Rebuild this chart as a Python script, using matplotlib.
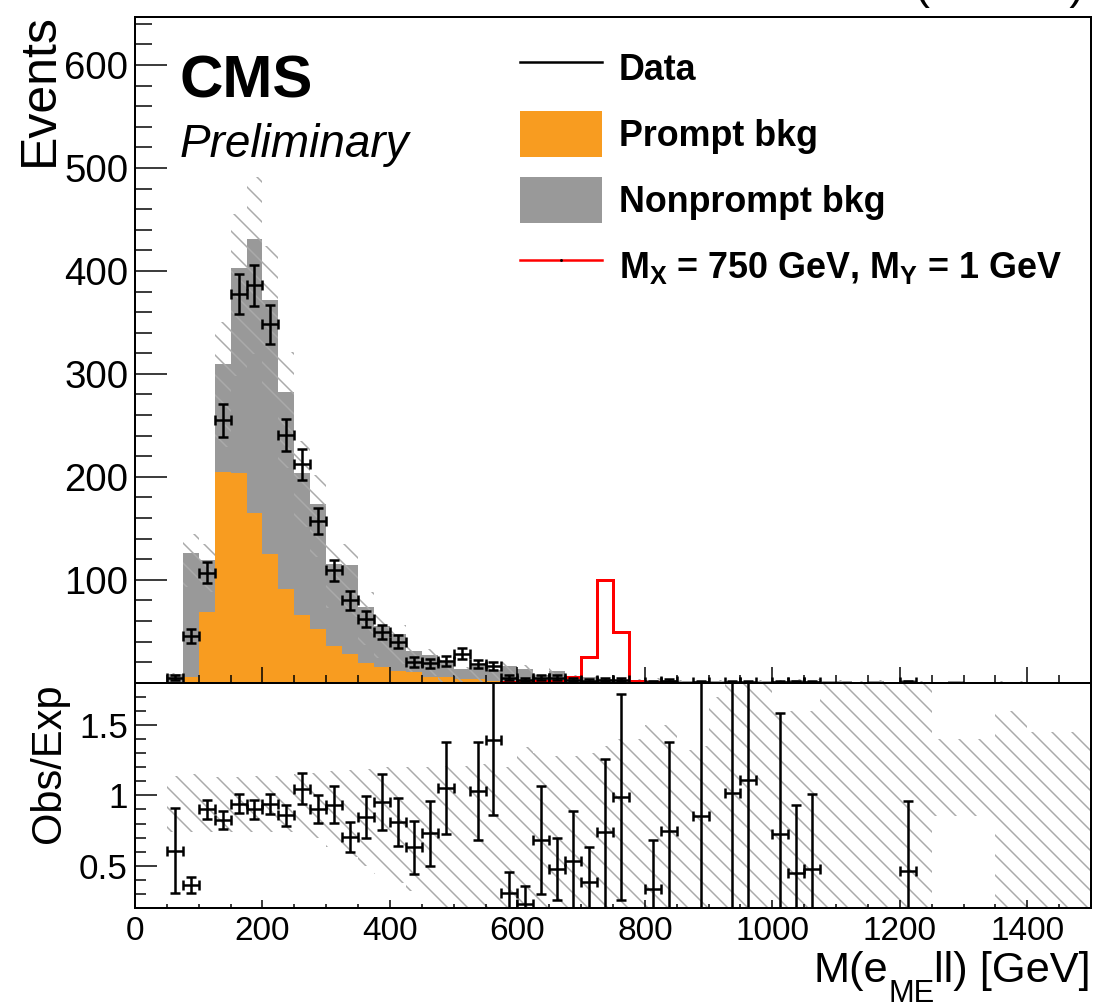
import numpy as np
import matplotlib
matplotlib.use('Agg')
import matplotlib.pyplot as plt
from matplotlib.lines import Line2D
from matplotlib.patches import Patch
from matplotlib.ticker import MultipleLocator, FixedLocator, FormatStrFormatter

plt.rcParams['font.family'] = ['Liberation Sans', 'DejaVu Sans']
plt.rcParams['mathtext.fontset'] = 'custom'
plt.rcParams['mathtext.rm'] = 'Liberation Sans'
plt.rcParams['mathtext.it'] = 'Liberation Sans:italic'
plt.rcParams['mathtext.bf'] = 'Liberation Sans:bold'
plt.rcParams['hatch.linewidth'] = 0.9

# ---------------- data (25 GeV bins from 50 to 1500 GeV) ----------------
bin_low, bin_high, bin_width = 50, 1500, 25

prompt = [0.5, 6, 69, 205, 204, 165, 125, 91, 66, 52,
          36, 28, 19.5, 15.5, 11, 10.5, 6, 6, 3.5, 3.5,
          1.5, 1.5, 1, 1, 0.8, 0.8, 0.6, 0.6, 0.5, 0.5,
          0.4, 0.4, 0.4, 0.3, 0.3, 0.3, 0.3, 0.3, 0.3, 0.3,
          0.3, 0.2, 0.2, 0.2, 0.2, 0.2, 0.2, 0.2, 0.2, 0.2,
          0.2, 0.2, 0.2, 0.2, 0.2, 0.2, 0.2, 0.2]

nonprompt = [8, 120, 50, 105, 199, 266, 247, 191, 138, 122,
             79, 86, 54.5, 39.5, 36, 20.5, 21, 15, 9.5, 12.5,
             10.5, 15, 12, 6.5, 10.2, 4.8, 4.6, 3.4, 2.5, 2.0,
             2.6, 2.3, 1.6, 0.9, 1.2, 0.7, 0.6, 0.9, 1.1, 1.9,
             1.8, 1.3, 1.0, 0.8, 1.1, 0.9, 2.0, 0.8, 0.6, 1.0,
             0.7, 0.5, 0.8, 0.6, 0.4, 0.7, 0.5, 0.6]

signal = [0, 0, 0, 0, 0, 0, 0, 0, 0, 0,
          0, 0, 0, 0, 0, 0, 0, 0, 0, 0,
          0, 1, 2, 2, 2, 6, 25, 100, 49, 2,
          0.5, 0, 0, 0, 0, 0, 0, 0, 0, 0,
          0, 0, 0, 0, 0, 0, 0, 0, 0, 0,
          0, 0, 0, 0, 0, 0, 0, 0]

data = [5, 45, 107, 255, 378, 386, 348, 241, 212, 157,
        109, 80, 62, 49, 40, 20, 19, 21, 28, 18,
        16, 5, 3, 5, 5, 3, 2, 3, 3, 0,
        1, 2, 0, 1, 0, 1, 1, 0, 1, 1,
        1, 0, 0, 0, 0, 0, 1, 0, 0, 0,
        0, 0, 0, 0, 0, 0, 0, 0]

data_err = [2.2, 6.7, 10.3, 16, 19.4, 19.6, 18.7, 15.5, 14.6, 12.5,
            10.4, 8.9, 7.9, 7.0, 6.3, 4.5, 4.4, 4.6, 5.3, 4.2,
            4.0, 2.2, 1.7, 2.2, 2.2, 1.7, 1.4, 1.7, 1.7, 0,
            1, 1.4, 0, 1, 0, 1, 1, 0, 1, 1,
            1, 0, 0, 0, 0, 0, 1, 0, 0, 0,
            0, 0, 0, 0, 0, 0, 0, 0]

nan = np.nan
ratio = [0.607, 0.364, 0.90, 0.824, 0.94, 0.90, 0.937, 0.859, 1.047, 0.906,
         0.934, 0.706, 0.847, 0.953, 0.812, 0.63, 0.73, 1.052, nan, 1.03,
         1.39, 0.304, 0.23, 0.68, 0.477, 0.535, 0.386, 0.74, 0.99, nan,
         0.337, 0.745, nan, 0.85, nan, 1.02, 1.106, nan, 0.724, 0.45,
         0.48, nan, nan, nan, nan, nan, 0.46, nan, nan, nan,
         nan, nan, nan, nan, nan, nan, nan, nan]
ratio_err_lo = [0.30, 0.054, 0.07, 0.065, 0.068, 0.065, 0.07, 0.075, 0.11, 0.10,
                0.13, 0.106, 0.147, 0.20, 0.17, 0.19, 0.23, 0.33, 0, 0.35,
                0.53, 0.20, 0.10, 0.38, 0.217, 0.40, 0.30, 0.60, 0.73, 0,
                0.30, 0.60, 0, 0.85, 0, 1.0, 1.0, 0, 0.60, 0.40,
                0.40, 0, 0, 0, 0, 0, 0.40, 0, 0, 0,
                0, 0, 0, 0, 0, 0, 0, 0]
ratio_err_hi = [0.30, 0.056, 0.07, 0.065, 0.068, 0.065, 0.07, 0.075, 0.11, 0.10,
                0.13, 0.106, 0.147, 0.20, 0.17, 0.19, 0.23, 0.33, 0, 0.35,
                0.60, 0.15, 0.125, 0.386, 0.223, 0.352, 0.244, 0.52, 0.73, 0,
                0.343, 0.635, 0, 1.5, 0, 1.5, 1.5, 0, 0.862, 0.484,
                0.53, 0, 0, 0, 0, 0, 0.497, 0, 0, 0,
                0, 0, 0, 0, 0, 0, 0, 0]

# relative uncertainty band of the total background (upper / lower edge)
band_hi = [1.14, 1.15, 1.13, 1.13, 1.13, 1.14, 1.14, 1.14, 1.15, 1.16,
           1.17, 1.18, 1.19, 1.20, 1.20, 1.20, 1.20, 1.21, 1.21, 1.22,
           1.22, 1.20, 1.34, 1.30, 1.28, 1.28, 1.30, 1.35, 1.40, 1.40,
           1.50, 1.50, 1.32, 1.35, 1.70, 1.90, 1.90, 1.90, 1.60, 1.60,
           1.60, 1.90, 1.90, 1.90, 1.90, 1.90, 1.90, 1.90, 1.40, 1.40,
           1.40, 1.40, 1.60, 1.60, 1.45, 1.45, 1.45, 1.45]
band_lo = [0.74, 0.74, 0.74, 0.74, 0.74, 0.74, 0.74, 0.74, 0.74, 0.70,
           0.63, 0.56, 0.50, 0.44, 0.38, 0.32, 0.25, 0.0, 0.0, 0.0,
           0.0, 0.0, 0.0, 0.0, 0.0, 0.0, 0.0, 0.0, 0.0, 0.0,
           0.0, 0.0, 0.0, 0.0, 0.0, 0.0, 0.0, 0.0, 0.0, 0.0,
           0.0, 0.0, 0.0, 0.0, 0.0, 0.0, 0.0, 0.0, 0.85, 0.85,
           0.85, 0.85, 0.0, 0.0, 0.0, 0.0, 0.0, 0.0]

x_ticks = [0, 200, 400, 600, 800, 1000, 1200, 1400]
y_ticks_top = [100, 200, 300, 400, 500, 600]
y_ticks_ratio = [0.5, 1.0, 1.5]

legend_labels = ['Data', 'Prompt bkg', 'Nonprompt bkg',
                 r'$\mathbf{M_{X}}$ = 750 GeV, $\mathbf{M_{Y}}$ = 1 GeV']

ORANGE = '#f89c20'
GREY = '#999999'
HATCH_C = '#aaaaaa'

# ---------------- figure ----------------
W, H, DPI = 1097, 1006, 120
fig = plt.figure(figsize=(W / DPI, H / DPI), dpi=DPI)

def fx(px):
    return px / W

def fy(py):
    return 1 - py / H

left, right = 135, 1091
top1, split, bot2 = 16.7, 682.7, 908
ax1 = fig.add_axes([fx(left), fy(split), fx(right) - fx(left), fy(top1) - fy(split)])
ax2 = fig.add_axes([fx(left), fy(bot2), fx(right) - fx(left), fy(split) - fy(bot2)])

edges = np.arange(bin_low, bin_high + 1, bin_width)
centers = edges[:-1] + bin_width / 2
prompt_a = np.array(prompt)
nonprompt_a = np.array(nonprompt)
total = prompt_a + nonprompt_a
data_a = np.array(data, dtype=float)
derr = np.array(data_err)

# stacked backgrounds
ax1.stairs(prompt_a, edges, baseline=0, fill=True, facecolor=ORANGE,
           edgecolor='none', lw=0, zorder=1)
ax1.stairs(total, edges, baseline=prompt_a, fill=True, facecolor=GREY,
           edgecolor='none', lw=0, zorder=1)
# uncertainty band
ax1.stairs(total * np.array(band_hi), edges, baseline=total * np.array(band_lo),
           fill=True, facecolor='none', edgecolor=HATCH_C, lw=0,
           hatch='\\\\', zorder=2)
# signal
ax1.stairs(np.array(signal), edges, baseline=0, color='red', lw=1.8, zorder=3)
# data
m = data_a > 0
ax1.errorbar(centers[m], data_a[m], yerr=derr[m], xerr=bin_width / 2, fmt='none',
             ecolor='black', elinewidth=1.5, capsize=2.8, capthick=1.5, zorder=4)

ax1.set_xlim(0, 1500)
ax1.set_ylim(0, 647)
ax1.xaxis.set_major_locator(FixedLocator(x_ticks))
ax1.xaxis.set_minor_locator(MultipleLocator(50))
ax1.yaxis.set_major_locator(FixedLocator(y_ticks_top))
ax1.yaxis.set_minor_locator(MultipleLocator(20))
ax1.tick_params(axis='x', which='major', direction='in', length=9.6, width=0.9,
                top=False, bottom=True, labelbottom=False)
ax1.tick_params(axis='x', which='minor', direction='in', length=4.8, width=0.9,
                top=False, bottom=True)
ax1.tick_params(axis='y', which='major', direction='in', length=19, width=0.9,
                right=False, labelsize=23, pad=4.0)
ax1.tick_params(axis='y', which='minor', direction='in', length=10, width=0.9,
                right=False)

# ratio panel
ax2.stairs(np.array(band_hi), edges, baseline=np.array(band_lo), fill=True,
           facecolor='none', edgecolor=HATCH_C, lw=0, hatch='\\\\', zorder=1)
r = np.array(ratio)
rl = np.array(ratio_err_lo)
rh = np.array(ratio_err_hi)
mr = ~np.isnan(r)
ax2.errorbar(centers[mr], r[mr], yerr=[rl[mr], rh[mr]], xerr=bin_width / 2,
             fmt='none', ecolor='black', elinewidth=1.5, capsize=2.8,
             capthick=1.5, zorder=3)
ax2.set_xlim(0, 1500)
ax2.set_ylim(0.2, 1.8)
ax2.xaxis.set_major_locator(FixedLocator(x_ticks))
ax2.xaxis.set_minor_locator(MultipleLocator(50))
ax2.yaxis.set_major_locator(FixedLocator(y_ticks_ratio))
ax2.yaxis.set_minor_locator(MultipleLocator(0.1))
ax2.yaxis.set_major_formatter(FormatStrFormatter('%g'))
ax2.tick_params(axis='x', which='major', direction='in', length=5, width=0.9,
                top=False, labelsize=20, pad=4.5)
ax2.tick_params(axis='x', which='minor', direction='in', length=2.5, width=0.9,
                top=False)
ax2.tick_params(axis='y', which='major', direction='in', length=13, width=0.9,
                right=False, labelsize=21, pad=4.2)
ax2.tick_params(axis='y', which='minor', direction='in', length=6.6, width=0.9,
                right=False)

for ax in (ax1, ax2):
    for s in ax.spines.values():
        s.set_linewidth(1.2)

# legend
handles = [Line2D([], [], color='black', lw=1.5),
           Patch(facecolor=ORANGE, edgecolor='none'),
           Patch(facecolor=GREY, edgecolor='none'),
           Line2D([], [], color='red', lw=1.5, marker='.', markersize=1.5,
                  markerfacecolor='black', markeredgecolor='black')]
leg_fs = 21.5
leg = ax1.legend(handles, legend_labels, loc='upper left',
                 bbox_to_anchor=(fx(520), fy(45)), bbox_transform=fig.transFigure,
                 frameon=False, borderpad=0, borderaxespad=0,
                 prop={'size': leg_fs, 'weight': 'bold'},
                 handlelength=2.29, handleheight=1.62, labelspacing=0.54,
                 handletextpad=0.47, numpoints=1)

# texts
fig.text(fx(180), fy(98), 'CMS', fontweight='bold', fontsize=36, va='baseline')
fig.text(fx(180), fy(157), 'Preliminary', style='italic', fontsize=27.5, va='baseline')
fig.text(fx(1084), fy(-1.5), '(13 TeV)', ha='right', va='baseline', fontsize=27)
fig.text(fx(53), fy(13), 'Events', rotation=90, rotation_mode='anchor',
         ha='right', va='baseline', fontsize=30)
fig.text(fx(60), fy(683), 'Obs/Exp', rotation=90, rotation_mode='anchor',
         ha='right', va='baseline', fontsize=25)

# x-axis title composed right-to-left with a large, low subscript
renderer = fig.canvas.get_renderer()
t3 = fig.text(fx(1091), fy(982), 'll) [GeV]', ha='right', va='baseline', fontsize=26)
bb3 = t3.get_window_extent(renderer)
t2 = fig.text(bb3.x0 / W, fy(1002), 'ME', ha='right', va='baseline', fontsize=18.5)
bb2 = t2.get_window_extent(renderer)
t1 = fig.text(bb2.x0 / W, fy(982), 'M(e', ha='right', va='baseline', fontsize=26)

fig.savefig('out.png', dpi=DPI)
